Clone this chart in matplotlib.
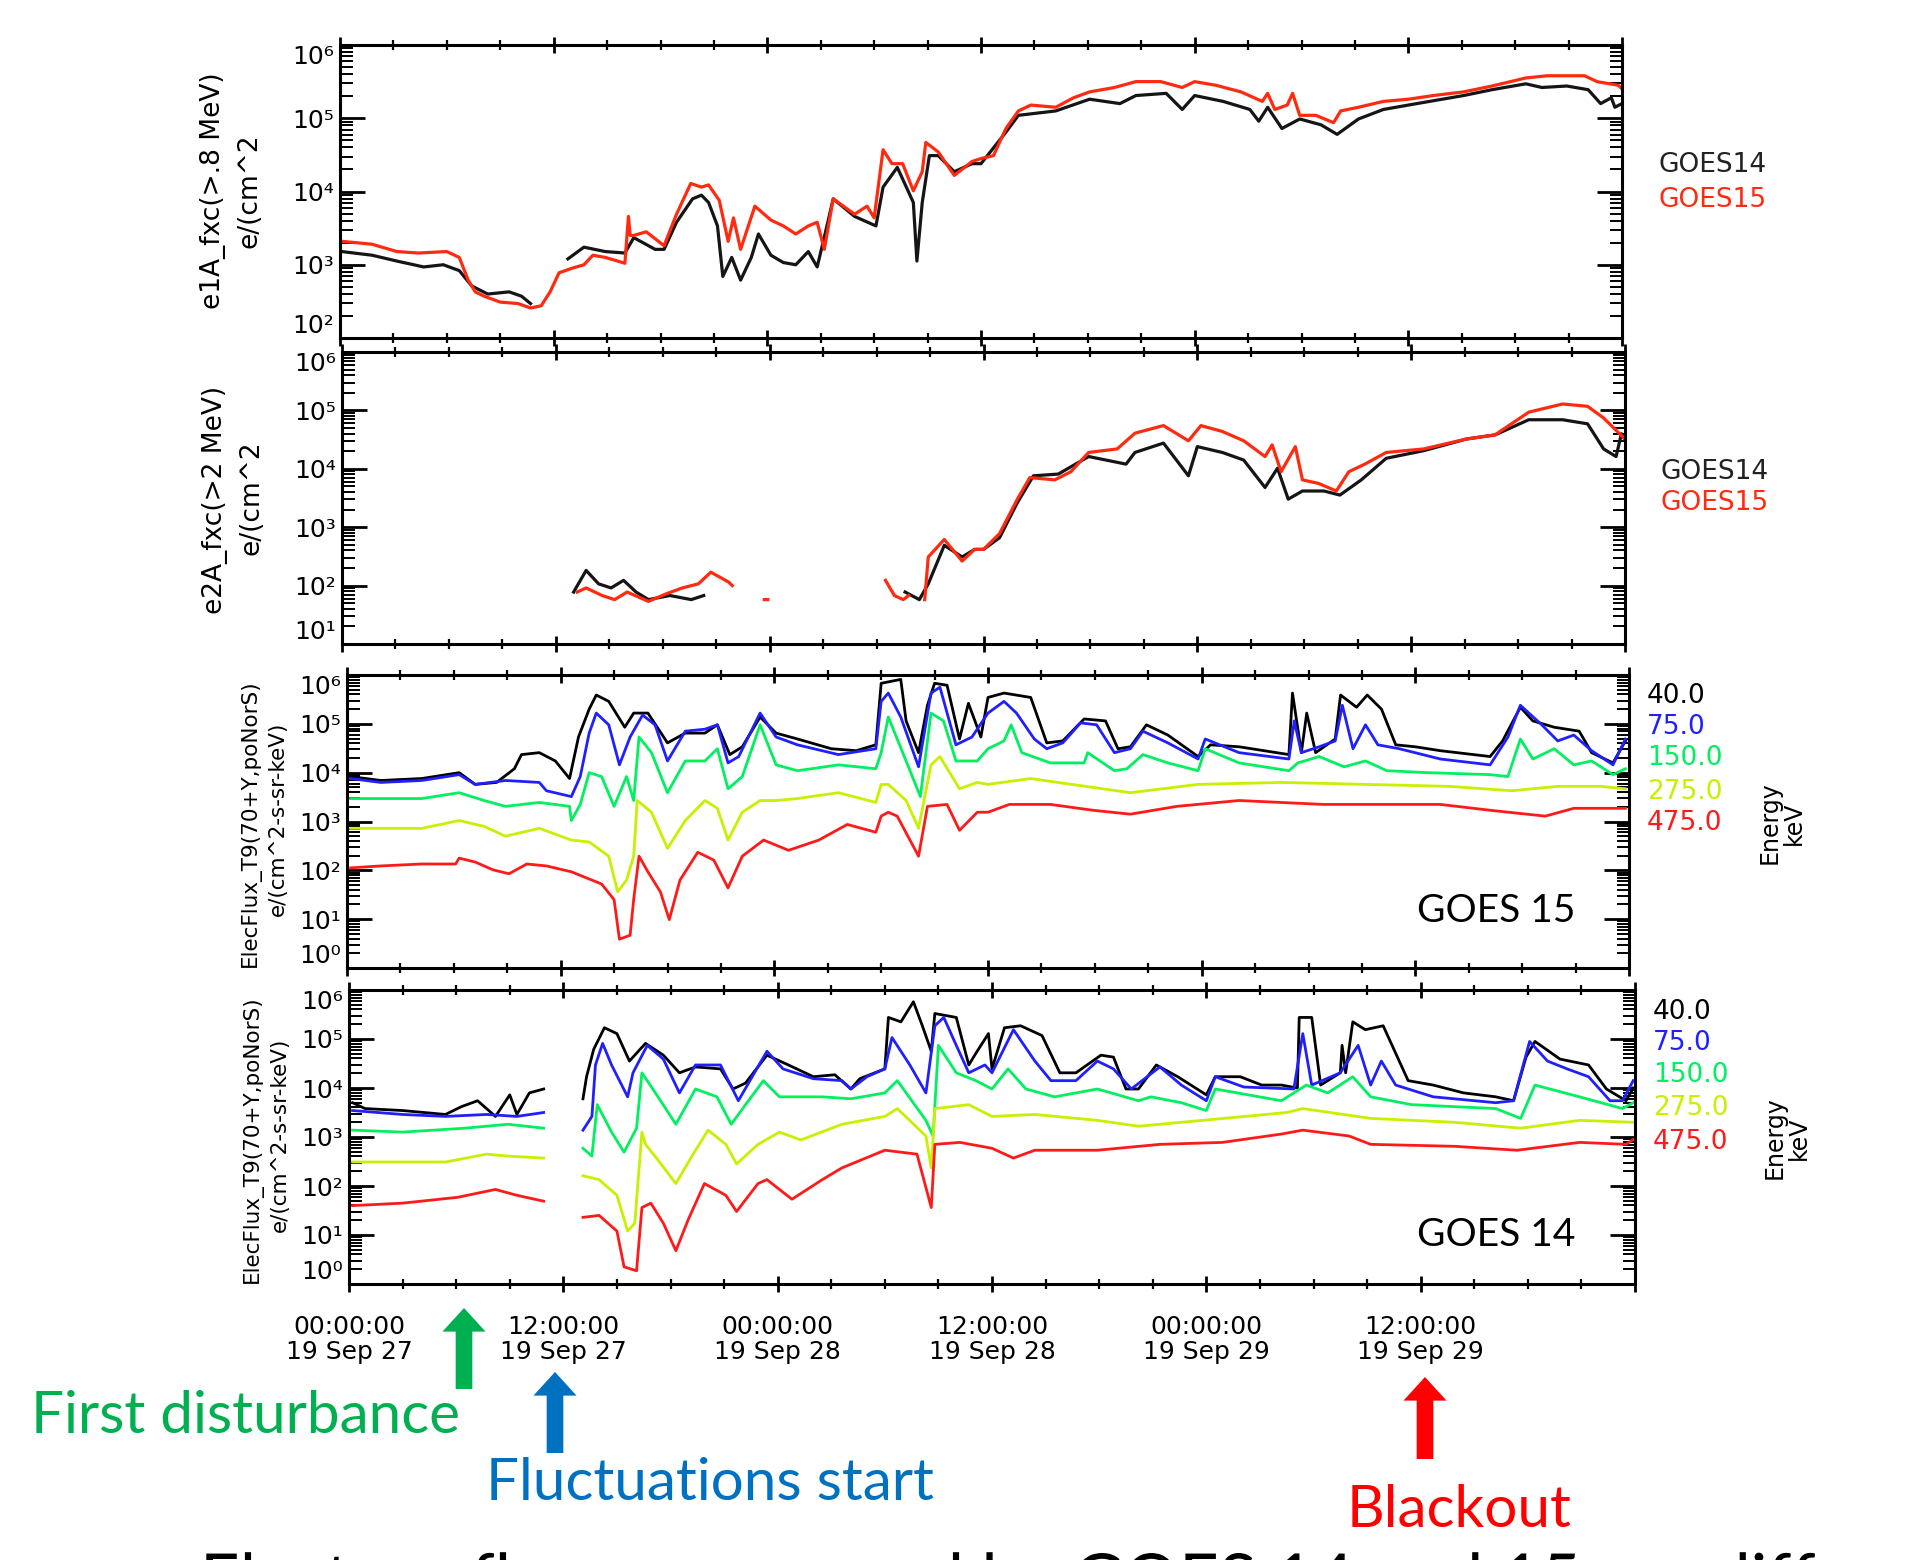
import numpy as np
import matplotlib
matplotlib.use("Agg")
import matplotlib.pyplot as plt
from matplotlib.patches import FancyArrowPatch, PathPatch
from matplotlib.textpath import TextPath
from matplotlib.font_manager import FontProperties
from matplotlib.transforms import Affine2D
from matplotlib.ticker import LogLocator, MultipleLocator, NullFormatter

nan = np.nan

# (hours after 00:00 UT 27 Sep, log10 flux)
e1_goes15 = [(0.1, 3.32), (1.8, 3.28), (3.2, 3.18), (4.4, 3.16), (6.0, 3.18), (6.7, 3.10), (7.2, 2.79),
             (7.6, 2.63), (8.1, 2.57), (9.0, 2.49), (10.0, 2.47), (10.7, 2.41), (11.3, 2.44), (11.8, 2.63),
             (12.3, 2.89), (13.0, 2.95), (13.7, 3.0), (14.2, 3.13), (14.9, 3.10), (15.6, 3.05), (16.0, 3.02),
             (16.2, 3.66), (16.3, 3.40), (16.5, 3.40), (17.2, 3.45), (18.2, 3.26), (18.9, 3.69), (19.7, 4.11),
             (20.3, 4.06), (20.7, 4.09), (21.3, 3.88), (21.8, 3.32), (22.1, 3.64), (22.5, 3.21), (23.3, 3.80),
             (24.2, 3.61), (24.9, 3.53), (25.6, 3.42), (26.3, 3.53), (26.8, 3.58), (27.2, 3.21), (27.7, 3.90),
             (28.9, 3.69), (29.6, 3.80), (30.0, 3.64), (30.5, 4.57), (31.0, 4.38), (31.6, 4.38), (32.2, 4.01),
             (32.7, 4.27), (32.9, 4.67), (33.6, 4.54), (34.5, 4.22), (35.5, 4.41), (36.0, 4.45), (36.7, 4.49),
             (37.4, 4.86), (38.1, 5.10), (38.8, 5.18), (40.2, 5.15), (41.2, 5.28), (42.1, 5.36), (43.5, 5.42),
             (44.7, 5.50), (46.1, 5.50), (47.3, 5.42), (48.0, 5.50), (49.2, 5.45), (50.6, 5.36), (51.8, 5.23),
             (52.1, 5.34), (52.5, 5.12), (53.2, 5.18), (53.5, 5.34), (53.9, 5.04), (54.8, 5.04), (55.8, 4.94),
             (56.2, 5.10), (57.2, 5.15), (58.6, 5.23), (60.0, 5.26), (61.4, 5.31), (63.1, 5.36), (64.7, 5.44),
             (66.6, 5.55), (67.8, 5.58), (69.9, 5.58), (70.6, 5.50), (71.8, 5.45), (72.0, 5.40)]
e1_goes14 = [(0.1, 3.18), (1.8, 3.13), (3.2, 3.05), (4.7, 2.97), (5.8, 3.0), (6.7, 2.92), (7.4, 2.71),
             (8.3, 2.60), (9.5, 2.63), (10.2, 2.57), (10.7, 2.47), (10.8, nan), (12.8, 3.08), (13.7, 3.24),
             (14.9, 3.18), (16.0, 3.16), (16.5, 3.37), (17.7, 3.21), (18.2, 3.21), (18.9, 3.58), (19.8, 3.90),
             (20.3, 3.95), (20.7, 3.85), (21.2, 3.53), (21.5, 2.84), (22.0, 3.10), (22.5, 2.79), (23.1, 3.10),
             (23.5, 3.42), (24.2, 3.13), (24.9, 3.03), (25.6, 3.0), (26.3, 3.18), (26.8, 2.97), (27.3, 3.48),
             (27.7, 3.90), (28.9, 3.66), (30.1, 3.53), (30.5, 4.06), (31.3, 4.33), (32.2, 3.85), (32.4, 3.05),
             (32.7, 3.85), (33.1, 4.49), (33.6, 4.49), (34.5, 4.27), (35.5, 4.38), (36.0, 4.38), (37.4, 4.81),
             (38.1, 5.04), (40.2, 5.10), (42.1, 5.26), (43.8, 5.20), (44.7, 5.31), (46.4, 5.34), (47.3, 5.12),
             (48.0, 5.31), (49.6, 5.23), (51.1, 5.12), (51.6, 4.96), (52.1, 5.15), (52.9, 4.86), (53.9, 4.99),
             (55.1, 4.91), (56.0, 4.78), (57.2, 4.99), (58.6, 5.12), (60.0, 5.18), (63.1, 5.31), (64.7, 5.39),
             (66.6, 5.47), (67.5, 5.42), (68.9, 5.44), (70.1, 5.39), (70.8, 5.20), (71.4, 5.28), (71.6, 5.15),
             (72.0, 5.20)]

e2_goes15 = [(13.2, 1.89), (13.7, 1.96), (14.6, 1.83), (15.3, 1.76), (16.0, 1.89), (17.2, 1.73), (18.2, 1.86),
             (19.1, 1.96), (20.0, 2.03), (20.7, 2.23), (21.7, 2.06), (21.9, 2.0), (22.0, nan), (23.7, 1.76),
             (23.9, 1.76), (24.0, nan), (30.5, 2.09), (31.0, 1.83), (31.5, 1.76), (31.8, 1.83), (32.0, nan),
             (32.7, 1.76), (32.9, 2.49), (33.8, 2.79), (34.8, 2.42), (35.5, 2.62), (36.0, 2.62), (36.9, 2.89),
             (37.9, 3.48), (38.6, 3.85), (40.0, 3.81), (40.9, 3.95), (41.9, 4.28), (43.5, 4.34), (44.5, 4.61),
             (46.1, 4.74), (47.5, 4.48), (48.2, 4.74), (49.4, 4.64), (50.6, 4.48), (51.8, 4.21), (52.2, 4.41),
             (52.7, 3.95), (53.5, 4.38), (53.9, 3.81), (54.8, 3.75), (55.8, 3.62), (56.5, 3.95), (57.4, 4.08),
             (58.6, 4.28), (60.7, 4.34), (63.1, 4.51), (64.7, 4.58), (66.6, 4.97), (68.5, 5.11), (69.9, 5.07),
             (70.8, 4.87), (71.9, 4.54), (72.0, 4.50)]
e2_goes14 = [(13.0, 1.89), (13.7, 2.26), (14.4, 2.03), (15.1, 1.96), (15.8, 2.09), (16.5, 1.89), (17.2, 1.76),
             (18.4, 1.83), (19.6, 1.76), (20.3, 1.83), (20.4, nan), (31.6, 1.89), (32.4, 1.76), (32.9, 2.03),
             (33.8, 2.69), (34.8, 2.49), (35.5, 2.62), (36.0, 2.62), (36.9, 2.82), (37.9, 3.42), (38.8, 3.88),
             (40.2, 3.91), (41.9, 4.21), (44.0, 4.08), (44.5, 4.28), (46.1, 4.44), (47.5, 3.88), (48.0, 4.38),
             (49.4, 4.28), (50.6, 4.15), (51.8, 3.68), (52.5, 4.01), (53.1, 3.48), (53.9, 3.62), (55.1, 3.62),
             (56.0, 3.55), (57.2, 3.81), (58.6, 4.18), (60.7, 4.31), (63.1, 4.51), (64.7, 4.58), (66.6, 4.84),
             (68.5, 4.84), (69.9, 4.77), (70.8, 4.34), (71.5, 4.21), (71.8, 4.60), (72.0, 4.50)]

# MAGED channels, GOES 15
g15_40 = [(0.2, 3.92), (1.9, 3.84), (4.2, 3.88), (6.3, 4.0), (7.2, 3.76), (8.4, 3.80), (9.4, 4.08), (9.8, 4.37),
          (10.8, 4.41), (11.7, 4.24), (12.5, 3.88), (13.0, 4.73), (13.6, 5.30), (14.0, 5.59), (14.7, 5.46),
          (15.6, 4.93), (16.1, 5.22), (16.9, 5.22), (18.0, 4.61), (19.0, 4.81), (20.1, 4.81), (20.8, 4.98),
          (21.5, 4.37), (22.2, 4.53), (23.2, 5.14), (24.1, 4.81), (25.3, 4.69), (27.2, 4.49), (28.6, 4.45),
          (29.7, 4.57), (30.0, 5.83), (31.1, 5.91), (31.4, 5.06), (32.1, 4.41), (32.6, 5.38), (33.0, 5.83),
          (33.7, 5.79), (34.4, 4.69), (34.9, 5.42), (35.6, 4.73), (36.0, 5.54), (36.9, 5.63), (38.4, 5.54),
          (39.3, 4.61), (40.2, 4.65), (41.4, 5.10), (42.6, 5.06), (43.3, 4.49), (44.0, 4.53), (44.9, 4.98),
          (46.1, 4.77), (47.8, 4.33), (48.5, 4.57), (50.1, 4.53), (52.9, 4.37), (53.1, 5.63), (53.6, 4.41),
          (53.9, 5.22), (54.4, 4.41), (55.5, 4.69), (55.8, 5.59), (56.7, 5.34), (57.3, 5.59), (58.1, 5.30),
          (58.9, 4.57), (60.0, 4.53), (61.4, 4.45), (64.2, 4.33), (64.9, 4.65), (65.9, 5.34), (66.6, 5.06),
          (67.8, 4.93), (69.2, 4.85), (69.9, 4.41), (71.1, 4.20), (71.8, 4.65)]
g15_75 = [(0.2, 3.88), (1.9, 3.80), (4.2, 3.84), (6.3, 3.96), (7.2, 3.76), (8.9, 3.84), (10.8, 3.80), (11.2, 3.63),
          (12.6, 3.51), (13.1, 3.92), (13.6, 4.81), (14.0, 5.22), (14.7, 4.98), (15.3, 4.16), (15.9, 4.73),
          (16.6, 5.18), (17.3, 4.98), (18.0, 4.24), (19.0, 4.85), (20.1, 4.89), (20.8, 4.98), (21.4, 4.20),
          (22.0, 4.33), (23.2, 5.22), (24.1, 4.73), (25.3, 4.57), (27.6, 4.37), (29.7, 4.49), (30.0, 5.46),
          (30.4, 5.63), (31.1, 5.14), (32.1, 4.12), (32.8, 5.63), (33.3, 5.75), (34.2, 4.57), (35.1, 4.73),
          (36.0, 5.22), (36.9, 5.46), (37.6, 5.22), (38.6, 4.69), (39.3, 4.49), (40.2, 4.61), (41.2, 5.02),
          (42.1, 4.98), (43.1, 4.41), (44.0, 4.49), (44.7, 4.85), (46.1, 4.61), (47.8, 4.28), (48.2, 4.69),
          (50.1, 4.41), (52.9, 4.28), (53.2, 5.06), (53.6, 4.41), (54.6, 4.53), (55.5, 4.65), (55.9, 5.38),
          (56.5, 4.49), (57.2, 4.98), (57.9, 4.57), (59.1, 4.49), (61.4, 4.28), (64.2, 4.16), (65.2, 4.73),
          (65.9, 5.38), (67.1, 4.98), (68.0, 4.65), (68.9, 4.77), (69.9, 4.45), (71.1, 4.16), (71.8, 4.69)]
g15_150 = [(0.2, 3.47), (4.2, 3.47), (6.3, 3.59), (7.7, 3.43), (8.9, 3.31), (10.8, 3.39), (12.5, 3.31), (12.6, 3.02),
           (13.1, 3.35), (13.6, 4.0), (14.3, 3.92), (15.0, 3.31), (15.7, 3.92), (16.1, 3.43), (16.4, 4.73),
           (17.1, 4.41), (18.0, 3.59), (19.0, 4.24), (20.1, 4.24), (20.8, 4.49), (21.4, 3.67), (22.2, 3.92),
           (23.2, 4.98), (24.1, 4.16), (25.3, 4.04), (27.6, 4.16), (29.7, 4.08), (30.0, 4.41), (30.4, 5.14),
           (31.4, 4.24), (32.2, 3.51), (32.8, 5.22), (33.5, 5.06), (34.2, 4.24), (35.4, 4.24), (36.0, 4.49),
           (36.9, 4.65), (37.3, 4.98), (37.9, 4.41), (39.5, 4.20), (41.4, 4.20), (41.6, 4.41), (43.1, 4.04),
           (43.8, 4.08), (44.7, 4.37), (46.1, 4.20), (47.8, 4.04), (48.2, 4.49), (50.1, 4.20), (52.9, 4.04),
           (53.4, 4.20), (54.6, 4.33), (56.0, 4.12), (57.2, 4.24), (58.4, 4.04), (60.7, 4.0), (64.2, 3.96),
           (65.2, 3.92), (65.9, 4.69), (66.6, 4.28), (67.8, 4.49), (68.9, 4.16), (69.9, 4.24), (71.1, 3.96),
           (71.8, 4.08)]
g15_275 = [(0.2, 2.86), (4.2, 2.86), (6.3, 3.02), (7.7, 2.90), (8.9, 2.70), (10.8, 2.86), (12.6, 2.62), (13.6, 2.58),
           (14.7, 2.29), (15.2, 1.56), (15.7, 1.80), (16.1, 2.29), (16.3, 3.43), (17.1, 3.19), (18.0, 2.45),
           (19.0, 3.02), (20.1, 3.43), (20.8, 3.27), (21.4, 2.62), (22.2, 3.19), (23.2, 3.43), (24.1, 3.43),
           (25.3, 3.47), (27.6, 3.59), (29.7, 3.39), (30.0, 3.76), (30.4, 3.76), (31.4, 3.43), (32.1, 2.86),
           (32.8, 4.16), (33.3, 4.33), (34.4, 3.67), (35.4, 3.80), (36.0, 3.76), (38.4, 3.88), (40.7, 3.76),
           (44.0, 3.59), (47.8, 3.76), (52.5, 3.80), (57.2, 3.76), (61.9, 3.72), (65.4, 3.63), (68.0, 3.72),
           (70.4, 3.72), (71.8, 3.67)]
g15_475 = [(0.2, 2.05), (1.9, 2.09), (4.2, 2.13), (6.1, 2.13), (6.3, 2.25), (7.2, 2.17), (8.2, 2.01), (9.1, 1.93),
           (10.1, 2.13), (11.2, 2.09), (12.6, 1.97), (14.3, 1.72), (15.0, 1.40), (15.3, 0.59), (15.9, 0.67),
           (16.1, 1.40), (16.4, 2.29), (16.9, 1.97), (17.6, 1.56), (18.1, 0.99), (18.7, 1.80), (19.7, 2.37),
           (20.6, 2.21), (21.4, 1.64), (22.2, 2.29), (23.4, 2.62), (24.8, 2.41), (26.5, 2.62), (28.1, 2.94),
           (29.7, 2.78), (30.0, 3.11), (30.4, 3.19), (30.9, 3.11), (32.1, 2.29), (32.6, 3.31), (33.7, 3.35),
           (34.4, 2.82), (35.4, 3.19), (36.0, 3.19), (37.2, 3.35), (39.5, 3.35), (41.9, 3.23), (44.0, 3.15),
           (46.6, 3.31), (50.1, 3.43), (54.8, 3.35), (61.4, 3.35), (64.2, 3.23), (67.3, 3.11), (68.9, 3.27),
           (71.8, 3.27)]

# MAGED channels, GOES 14
g14_40 = [(0.2, 3.70), (0.9, 3.58), (3.0, 3.54), (5.4, 3.46), (6.3, 3.62), (7.2, 3.74), (8.2, 3.42), (9.0, 3.86),
          (9.4, 3.46), (10.1, 3.90), (10.9, 3.98), (11.0, nan), (13.1, 3.78), (13.3, 4.23), (13.7, 4.79),
          (14.3, 5.23), (15.0, 5.11), (15.7, 4.55), (16.6, 4.91), (17.6, 4.67), (18.5, 4.31), (19.4, 4.43),
          (20.8, 4.39), (21.5, 3.98), (22.2, 4.10), (23.4, 4.67), (24.6, 4.47), (26.0, 4.23), (27.2, 4.27),
          (28.1, 3.98), (28.6, 4.19), (30.0, 4.39), (30.2, 5.44), (30.9, 5.35), (31.6, 5.76), (32.1, 5.27),
          (32.6, 4.75), (32.8, 5.52), (34.0, 5.44), (34.7, 4.47), (35.1, 4.71), (35.8, 5.11), (36.0, 4.39),
          (36.7, 5.23), (37.6, 5.27), (38.8, 5.07), (39.8, 4.31), (40.7, 4.31), (42.1, 4.67), (42.8, 4.63),
          (43.5, 3.98), (44.2, 3.98), (45.2, 4.47), (46.4, 4.23), (48.0, 3.86), (48.5, 4.23), (49.9, 4.23),
          (51.1, 4.06), (52.2, 4.06), (53.1, 4.0), (53.2, 5.44), (53.9, 5.44), (54.4, 4.06), (55.5, 4.31),
          (55.6, 4.87), (55.8, 4.31), (56.2, 5.35), (56.9, 5.19), (57.9, 5.27), (59.3, 4.15), (60.7, 4.06),
          (62.4, 3.90), (64.2, 3.82), (65.2, 3.74), (65.9, 4.63), (66.4, 4.95), (67.8, 4.59), (69.4, 4.47),
          (70.4, 3.98), (71.5, 3.74), (71.9, 4.0)]
g14_75 = [(0.2, 3.54), (3.0, 3.46), (5.4, 3.42), (7.7, 3.46), (9.4, 3.42), (10.9, 3.50), (11.0, nan), (13.1, 3.14),
          (13.6, 3.42), (13.8, 4.47), (14.2, 4.91), (14.7, 4.47), (15.6, 3.82), (15.9, 4.31), (16.7, 4.87),
          (17.6, 4.59), (18.5, 3.90), (19.4, 4.47), (20.8, 4.47), (21.8, 3.74), (22.7, 4.31), (23.4, 4.75),
          (24.3, 4.39), (26.0, 4.19), (27.6, 4.15), (28.1, 3.98), (29.0, 4.23), (30.0, 4.39), (30.4, 5.03),
          (31.4, 4.47), (32.3, 3.90), (32.8, 5.27), (33.3, 5.44), (34.0, 4.87), (34.7, 4.31), (35.6, 4.47),
          (36.0, 4.31), (37.2, 5.19), (38.4, 4.55), (39.3, 4.15), (40.7, 4.15), (41.9, 4.55), (42.8, 4.39),
          (43.8, 3.98), (45.4, 4.43), (46.6, 4.06), (48.0, 3.74), (48.5, 4.23), (50.1, 4.02), (52.9, 3.98),
          (53.4, 5.11), (53.9, 4.06), (55.5, 4.31), (56.5, 4.87), (57.2, 4.06), (57.8, 4.55), (58.6, 4.06),
          (60.7, 3.82), (64.2, 3.70), (65.2, 3.74), (66.1, 4.95), (67.1, 4.55), (68.2, 4.39), (69.4, 4.23),
          (70.6, 3.74), (71.3, 3.74), (71.9, 4.15)]
g14_150 = [(0.2, 3.14), (3.0, 3.10), (6.5, 3.18), (8.9, 3.26), (10.9, 3.18), (11.0, nan), (13.1, 2.77), (13.6, 2.61),
           (13.9, 3.66), (14.7, 3.10), (15.4, 2.69), (16.1, 3.18), (16.4, 4.31), (17.3, 3.82), (18.3, 3.26),
           (19.4, 3.98), (20.6, 3.82), (21.4, 3.26), (22.2, 3.66), (23.2, 4.15), (24.1, 3.82), (26.5, 3.82),
           (28.1, 3.78), (30.0, 3.90), (30.7, 4.15), (32.3, 3.34), (32.7, 3.02), (33.0, 4.87), (34.0, 4.31),
           (35.1, 4.15), (36.0, 3.98), (36.9, 4.39), (37.9, 3.98), (39.5, 3.82), (41.9, 3.98), (44.2, 3.74),
           (44.9, 3.82), (46.6, 3.70), (48.0, 3.54), (48.5, 3.98), (52.2, 3.74), (53.6, 4.06), (54.8, 3.90),
           (56.2, 4.23), (57.2, 3.82), (59.5, 3.66), (64.2, 3.58), (65.6, 3.38), (66.4, 4.06), (68.9, 3.82),
           (71.3, 3.58), (71.9, 3.70)]
g14_275 = [(0.2, 2.49), (5.4, 2.49), (7.7, 2.65), (8.9, 2.61), (10.9, 2.57), (11.0, nan), (13.1, 2.21), (14.0, 2.13),
           (15.0, 1.81), (15.6, 1.08), (16.0, 1.24), (16.4, 3.10), (16.6, 2.85), (17.3, 2.53), (18.3, 2.05),
           (19.2, 2.61), (20.1, 3.14), (21.1, 2.85), (21.7, 2.45), (22.9, 2.85), (24.1, 3.10), (25.3, 2.94),
           (27.6, 3.26), (30.0, 3.42), (30.7, 3.58), (32.3, 3.02), (32.6, 2.37), (32.8, 3.58), (34.7, 3.66),
           (36.0, 3.42), (38.4, 3.46), (41.9, 3.34), (44.2, 3.22), (47.8, 3.34), (52.5, 3.50), (53.4, 3.58),
           (57.2, 3.38), (61.9, 3.30), (65.6, 3.18), (68.9, 3.34), (71.9, 3.30)]
g14_475 = [(0.2, 1.60), (3.0, 1.65), (6.1, 1.77), (8.2, 1.93), (9.4, 1.81), (10.9, 1.69), (11.0, nan), (13.1, 1.36),
           (14.0, 1.40), (15.0, 1.08), (15.4, 0.35), (16.1, 0.27), (16.4, 1.56), (16.9, 1.65), (17.6, 1.24),
           (18.3, 0.68), (19.0, 1.32), (19.9, 2.05), (21.1, 1.81), (21.7, 1.48), (22.9, 2.05), (23.4, 2.13),
           (24.8, 1.73), (26.5, 2.13), (27.6, 2.37), (30.0, 2.73), (31.8, 2.65), (32.6, 1.56), (32.8, 2.85),
           (34.2, 2.89), (36.0, 2.77), (37.2, 2.57), (38.4, 2.73), (41.9, 2.73), (45.4, 2.85), (48.9, 2.89),
           (52.2, 3.06), (53.4, 3.14), (56.0, 3.02), (57.2, 2.85), (61.9, 2.81), (65.4, 2.73), (68.9, 2.89),
           (71.5, 2.85), (71.9, 2.95)]

energies = ['40.0', '75.0', '150.0', '275.0', '475.0']
energy_colors = ['black', '#1f1fff', '#00f060', '#c8f000', '#ff1a1a']
tick_hours = [0, 12, 24, 36, 48, 60, 72]
tick_labels = ['00:00:00\n19 Sep 27', '12:00:00\n19 Sep 27', '00:00:00\n19 Sep 28',
               '12:00:00\n19 Sep 28', '00:00:00\n19 Sep 29', '12:00:00\n19 Sep 29', '']
caption = 'Electron fluxes measured by GOES 14 and 15 are different'

plt.rcParams['font.family'] = ['DejaVu Sans']
SUP = str.maketrans('0123456789', '⁰¹²³⁴⁵⁶⁷⁸⁹')

W, H = 1929, 1560
fig = plt.figure(figsize=(W / 100, H / 100), dpi=100)


def fx(x):
    return x / W


def fy(y):
    return 1 - y / H


def panel(x0, y0, x1, y1, ylo, yhi):
    ax = fig.add_axes([fx(x0), fy(y1), (x1 - x0) / W, (y1 - y0) / H])
    ax.set_yscale('log')
    decades = list(range(ylo, yhi + 1))
    ax.set_yticks([10.0 ** k for k in decades])
    ax.set_yticklabels(['10' + str(k).translate(SUP) for k in decades])
    ax.set_ylim(10 ** ylo, 10 ** yhi)
    ax.set_xlim(0, 72)
    ax.yaxis.set_minor_locator(LogLocator(base=10, subs=np.arange(2, 10), numticks=20))
    ax.yaxis.set_minor_formatter(NullFormatter())
    ax.xaxis.set_major_locator(MultipleLocator(12))
    ax.xaxis.set_minor_locator(MultipleLocator(3))
    ax.tick_params(axis='y', which='major', direction='in', length=18, width=2,
                   left=True, right=True, labelsize=18, pad=4)
    ax.tick_params(axis='y', which='minor', direction='in', length=9, width=1.4, left=True, right=True)
    ax.tick_params(axis='x', which='major', direction='inout', length=12, width=2,
                   top=True, bottom=True, labelbottom=False)
    ax.tick_params(axis='x', which='minor', direction='inout', length=7, width=1.6, top=True, bottom=True)
    ticks = ax.yaxis.get_major_ticks()
    ticks[0].label1.set_verticalalignment('bottom')
    ticks[-1].label1.set_verticalalignment('top')
    for s in ax.spines.values():
        s.set_linewidth(2.2)
    return ax


def draw(ax, series, color, lw):
    d = np.array(series, dtype=float)
    ax.plot(d[:, 0], 10 ** d[:, 1], color=color, lw=lw)


# panel 1: >0.8 MeV
ax1 = panel(340, 45, 1622, 338, 2, 6)
draw(ax1, e1_goes14, '#151515', 2.3)
draw(ax1, e1_goes15, '#ff2a10', 2.3)
fig.text(fx(213), fy(191), 'e1A_fxc(>.8 MeV)', rotation=90, ha='center', va='center', fontsize=19)
fig.text(fx(250), fy(191), 'e/(cm^2', rotation=90, ha='center', va='center', fontsize=19)
fig.text(fx(1658), fy(165), 'GOES14', color='#222222', ha='left', va='center', fontsize=19)
fig.text(fx(1658), fy(200), 'GOES15', color='#ff2a10', ha='left', va='center', fontsize=19)

# panel 2: >2 MeV
ax2 = panel(342, 352, 1625, 644, 1, 6)
draw(ax2, e2_goes14, '#151515', 2.3)
draw(ax2, e2_goes15, '#ff2a10', 2.3)
fig.text(fx(215), fy(500), 'e2A_fxc(>2 MeV)', rotation=90, ha='center', va='center', fontsize=19)
fig.text(fx(252), fy(498), 'e/(cm^2', rotation=90, ha='center', va='center', fontsize=19)
fig.text(fx(1661), fy(472), 'GOES14', color='#222222', ha='left', va='center', fontsize=19)
fig.text(fx(1661), fy(503), 'GOES15', color='#ff2a10', ha='left', va='center', fontsize=19)

# panels 3 and 4: MAGED differential flux
ax3 = panel(347, 675, 1629, 968, 0, 6)
for s, c in zip([g15_40, g15_75, g15_150, g15_275, g15_475], energy_colors):
    draw(ax3, s, c, 2.0)
ax4 = panel(349, 990, 1635, 1284, 0, 6)
for s, c in zip([g14_40, g14_75, g14_150, g14_275, g14_475], energy_colors):
    draw(ax4, s, c, 2.0)

for ax, lx, ly, ex, ey, kx, ky, name, ny in [
        (ax3, 250, 823, 1647, [696, 727, 758, 792, 823], 1782, 823, 'GOES 15', 911),
        (ax4, 252, 1139, 1653, [1012, 1043, 1075, 1108, 1142], 1787, 1138, 'GOES 14', 1235)]:
    fig.text(fx(lx), fy(ly), 'ElecFlux_T9(70+Y,poNorS)', rotation=90, ha='center', va='center', fontsize=15.5)
    fig.text(fx(lx + 28), fy(ly - 4), 'e/(cm^2-s-sr-keV)', rotation=90, ha='center', va='center', fontsize=15.5)
    for lab, col, yy in zip(energies, energy_colors, ey):
        fig.text(fx(ex), fy(yy), lab, color=col, ha='left', va='center', fontsize=19)
    fig.text(fx(kx), fy(ky), 'Energy\nkeV', rotation=90, ha='center', va='center',
             multialignment='center', fontsize=17, linespacing=1.0)
    fig.text(fx(1496), fy(ny), name, family='Lato', ha='center', va='center', fontsize=28)

ax4.set_xticks(tick_hours)
ax4.set_xticklabels(tick_labels, fontsize=18, linespacing=1.1)
ax4.tick_params(axis='x', which='major', labelbottom=True, pad=16)

# slide annotations
arrows = [(464, 1389, 1308, '#00b050'), (555, 1453, 1372, '#0070c0'), (1425, 1459, 1377, '#ff0000')]
for x, y_tail, y_tip, col in arrows:
    fig.add_artist(FancyArrowPatch((fx(x), fy(y_tail)), (fx(x), fy(y_tip)), transform=fig.transFigure,
                                   arrowstyle='simple,head_length=17,head_width=31,tail_width=12',
                                   mutation_scale=1, color=col, shrinkA=0, shrinkB=0, lw=0))

fig.text(fx(31), fy(1433), 'First disturbance', family='Lato', color='#00b050', fontsize=42, va='baseline')
fig.text(fx(486), fy(1500), 'Fluctuations start', family='Lato', color='#0070c0', fontsize=42, va='baseline')
fig.text(fx(1347), fy(1527), 'Blackout', family='Lato', color='#ff0000', fontsize=42, va='baseline')

# slide caption running off the bottom edge: only the tops of its tall letters show
cap_path = TextPath((0, 0), caption, size=69, prop=FontProperties(family='Lato'))
fig.add_artist(PathPatch(cap_path, transform=Affine2D().translate(200, H - 1603),
                         facecolor='black', lw=0))

fig.savefig('out.png', dpi=100)
